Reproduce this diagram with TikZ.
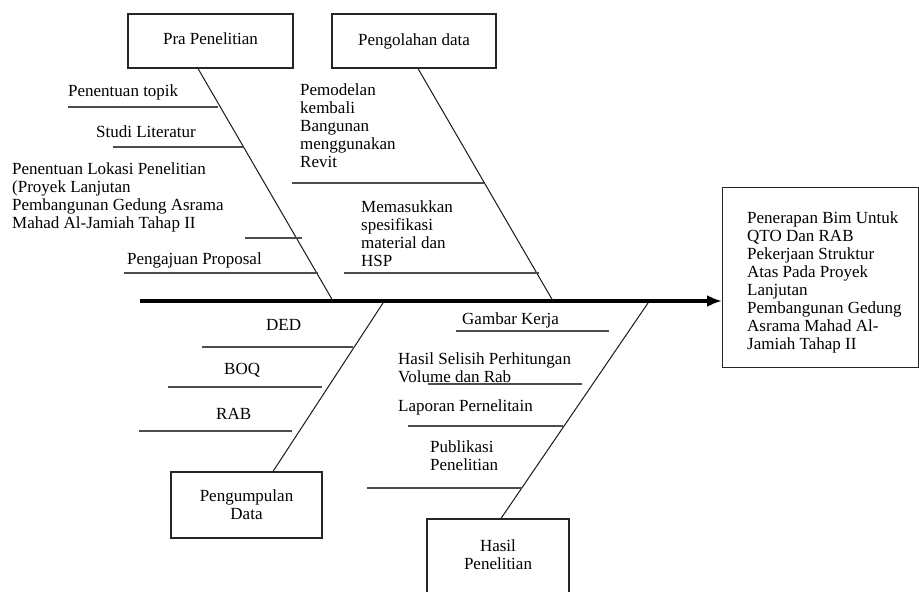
\documentclass[tikz,border=0pt]{standalone}
\usepackage{fontspec}
\setmainfont{Liberation Serif}
\usetikzlibrary{arrows.meta,calc}
\begin{document}
\begin{tikzpicture}[x=1pt,y=-1pt,
  every node/.style={font=\fontsize{17}{18}\selectfont, text=black},
  box/.style={draw=black!85, line width=1.1pt, inner sep=0pt},
  lbl/.style={inner sep=0pt, anchor=base west},
  mlbl/.style={inner sep=0pt, anchor=north west, align=left},
  rib/.style={draw=black!70, line width=1.2pt},
  bone/.style={draw=black!90, line width=1pt},
  spine/.style={draw=black, line width=3.5pt, -{Latex[length=15pt,width=12pt]}}]
\useasboundingbox (0,0) rectangle (919,592);
\fill[white] (0,0) rectangle (919,592);

% boxes
\node[box, minimum width=165pt, minimum height=54pt, text depth=4pt] (pra) at (210.5,41) {Pra Penelitian};
\node[box, minimum width=164pt, minimum height=54pt] (olah) at (414,41) {Pengolahan data};
\node[box, minimum width=151pt, minimum height=66pt, align=center] (kumpul) at (246.5,505) {Pengumpulan\\Data};
\node[box, minimum width=142pt, minimum height=80pt, align=center, text depth=8pt] (hasil) at (498,559) {Hasil\\Penelitian};
\node[box, minimum width=196pt, minimum height=180pt, anchor=north west] (goal) at (722,187) {};
\node[mlbl] (goaltxt) at (747,211.4) {Penerapan Bim Untuk\\QTO Dan RAB\\Pekerjaan Struktur\\Atas Pada Proyek\\Lanjutan\\Pembangunan Gedung\\Asrama Mahad Al-\\Jamiah Tahap II};

% spine
\coordinate (tail) at (140,301);
\draw[spine] (tail) -- (tail -| goal.west);

% bones
\coordinate (j1) at (333,301);
\coordinate (j2) at (553,301);
\coordinate (j3) at (383,303);
\coordinate (j4) at (648,303);
\draw[bone] ($(pra.south)+(-12.5,0)$) -- (j1);
\draw[bone] ($(olah.south)+(4,0)$) -- (j2);
\draw[bone] (j3) -- ($(kumpul.north)+(26.5,0)$);
\draw[bone] (j4) -- ($(hasil.north)+(3,0)$);

% ribs
\draw[rib] (68,107) -- (218,107);
\draw[rib] (113,147) -- (243,147);
\draw[rib] (245,238) -- (302,238);
\draw[rib] (124,273) -- (318,273);
\draw[rib] (292,183) -- (484,183);
\draw[rib] (344,273) -- (539,273);
\draw[rib] (202,347) -- (353,347);
\draw[rib] (168,387) -- (322,387);
\draw[rib] (139,431) -- (292,431);
\draw[rib] (456,331) -- (609,331);
\draw[rib] (428,384) -- (582,384);
\draw[rib] (408,426) -- (563,426);
\draw[rib] (367,488) -- (522,488);

% labels
\node[lbl] (t1) at (68,96) {Penentuan topik};
\node[lbl] (t2) at (96,137) {Studi Literatur};
\node[mlbl] (t3) at (12,162.4) {Penentuan Lokasi Penelitian\\(Proyek Lanjutan\\Pembangunan Gedung Asrama\\Mahad Al-Jamiah Tahap II};
\node[lbl] (t4) at (127,264) {Pengajuan Proposal};
\node[mlbl] (o1) at (300,83.4) {Pemodelan\\kembali\\Bangunan\\menggunakan\\Revit};
\node[mlbl] (o2) at (361,200.4) {Memasukkan\\spesifikasi\\material dan\\HSP};
\node[lbl] (k1) at (266,330) {DED};
\node[lbl] (k2) at (224,374) {BOQ};
\node[lbl] (k3) at (216,419) {RAB};
\node[lbl] (h1) at (462,324) {Gambar Kerja};
\node[mlbl] (h2) at (398,352.4) {Hasil Selisih Perhitungan\\Volume dan Rab};
\node[lbl] (h3) at (398,411) {Laporan Pernelitain};
\node[mlbl] (h4) at (430,440.4) {Publikasi\\Penelitian};
\end{tikzpicture}
\end{document}
